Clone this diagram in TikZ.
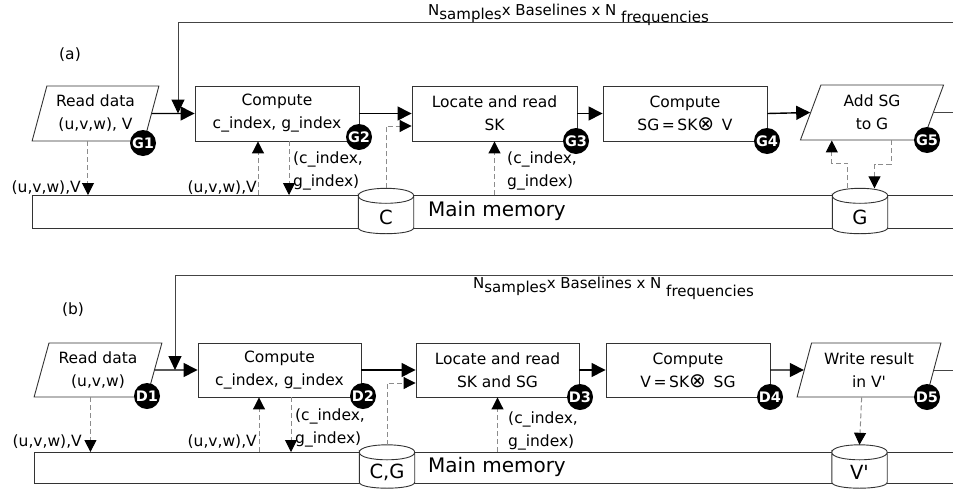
\documentclass[tikz,border=0pt]{standalone}
\usepackage{fontspec}
\setmainfont{DejaVu Sans}
\usetikzlibrary{shapes.geometric,arrows.meta,calc}
\definecolor{boxc}{HTML}{333333}
\definecolor{dashc}{HTML}{8C8C8C}
\definecolor{loopc}{HTML}{444444}
% storage cylinder drawn around the frame of a (text-less) node
\newcommand\dbshape[1]{%
  \fill[white] ($(#1.north west)+(0,7.5)$) .. controls +(0,-10) and +(0,-10) .. ($(#1.north east)+(0,7.5)$)
     -- ($(#1.south east)+(0,-6)$) .. controls +(0,8) and +(0,8) .. ($(#1.south west)+(0,-6)$) -- cycle;
  \draw[boxline] ($(#1.north west)+(0,7.5)$) .. controls +(0,-10) and +(0,-10) .. ($(#1.north east)+(0,7.5)$)
     .. controls +(0,10) and +(0,10) .. ($(#1.north west)+(0,7.5)$)
     -- ($(#1.south west)+(0,-6)$) .. controls +(0,8) and +(0,8) .. ($(#1.south east)+(0,-6)$)
     -- ($(#1.north east)+(0,7.5)$);
}
\newcommand\otimesbig{{\fontsize{20}{20}\selectfont ⊗}}
\begin{document}
\begin{tikzpicture}[x=1pt,y=-1pt,
  boxline/.style={draw=boxc, line width=0.9pt},
  txt/.style={font=\fontsize{15.5}{23}\selectfont, align=center},
  proc/.style={boxline, rectangle, minimum height=55pt, inner sep=0pt, txt},
  io/.style={boxline, trapezium, trapezium left angle=72, trapezium right angle=108,
    trapezium stretches=true, minimum height=55pt, inner sep=0pt, txt},
  badge/.style={circle, fill=black, text=white, minimum size=26pt, inner sep=0pt,
    font=\fontsize{14.5}{14.5}\bfseries\selectfont},
  flow/.style={line width=1.4pt, draw=black, -{Triangle[length=14pt,width=14pt]}},
  loopline/.style={line width=1pt, draw=loopc, -{Triangle[length=14pt,width=13pt,color=black,fill=black]}},
  memio/.style={draw=dashc, line width=1pt, dash pattern=on 5pt off 3pt,
    -{Triangle[length=12pt,width=12pt,color=black,fill=black]}},
  lbl/.style={font=\fontsize{15.5}{23}\selectfont, inner sep=0pt, align=left},
  membar/.style={boxline, rectangle, inner sep=0pt, minimum width=1000pt, anchor=north west},
  memtxt/.style={font=\fontsize{20}{20}\selectfont, inner sep=0pt},
  cylframe/.style={rectangle, inner sep=0pt, minimum width=55pt, minimum height=45pt},
  cyltxt/.style={font=\fontsize{19.5}{19.5}\selectfont, inner sep=0pt},
  topnote/.style={font=\fontsize{15}{15}\selectfont, inner sep=0pt, anchor=base west},
  tag/.style={font=\fontsize{15.5}{15.5}\selectfont, inner sep=0pt}
]
\clip (0,0) rectangle (953,493);

% ================= panel (a) =================
\node[tag] (tagA) at (70,55) {(a)};
\node[membar, minimum height=33pt] (memA) at (32,195) {};
\node[memtxt] (memAt) at (497,211) {Main memory};
\node[cylframe] (cyC) at (386,211) {};
\dbshape{cyC}
\node[cyltxt] (cyCt) at ([yshift=-6pt]cyC.center) {C};
\node[cylframe] (cyG) at (860,211) {};
\dbshape{cyG}
\node[cyltxt] (cyGt) at ([yshift=-6pt]cyG.center) {G};

\node[io, minimum width=127pt] (rdA) at (95.5,113.5) {Read data\\(u,v,w), V};
\node[proc, minimum width=164pt] (cmpA) at (277,113.5) {Compute\\c\_index, g\_index};
\node[proc, minimum width=165pt] (locA) at (494.5,113.5) {Locate and read\\SK};
\node[proc, minimum width=164pt] (sgA) at (685,113.5) {Compute\\SG\,=\,SK\otimesbig\enspace V};
\node[io, minimum width=144pt] (addA) at (872,112.5) {Add SG\\to G};

\coordinate (loopA) at (178,22);
\draw[flow] (rdA.east) -- (cmpA.west);
\draw[flow] (cmpA.east) -- (locA.west);
\draw[flow] (locA.east) -- (sgA.west);
\draw[flow] (sgA.east) -- (addA.west);
\draw[loopline] (addA.east) -- ++(60,0) |- (loopA) -- (loopA |- cmpA.west);
\node[topnote] (noteA) at (428,15) {N\raisebox{-4pt}{samples}x Baselines x N \raisebox{-7pt}{frequencies}};

\coordinate (rdAb) at ($(rdA.bottom left corner)!0.5!(rdA.bottom right corner)$);
\draw[memio] (rdAb) -- (rdAb |- memA.north);
\draw[memio] ([xshift=-19pt]cmpA.south |- memA.north) -- ([xshift=-19pt]cmpA.south);
\draw[memio] ([xshift=12pt]cmpA.south) -- ([xshift=12pt]cmpA.south |- memA.north);
\draw[memio] (cyC.north) |- ([yshift=-12.5pt]locA.west);
\draw[memio] (locA.south |- memA.north) -- (locA.south);
\draw[memio] ([xshift=-12.5pt]cyG.north) -- ++(0,-25) -| ([xshift=32pt]addA.bottom left corner);
\draw[memio] ([xshift=-32pt]addA.bottom right corner) -- ++(0,24) -| ([xshift=14.5pt]cyG.north);

\node[lbl, anchor=east] (uvA1) at (81,188) {(u,v,w),V};
\node[lbl, anchor=east] (uvA2) at (257,188) {(u,v,w),V};
\node[lbl, anchor=north west] (ciA1) at (293,152) {(c\_index,\\g\_index)};
\node[lbl, anchor=north west] (ciA2) at (507,152) {(c\_index,\\g\_index)};

\node[badge] (g1) at (143,143) {G1};
\node[badge] (g2) at (359,137) {G2};
\node[badge] (g3) at (576,141) {G3};
\node[badge] (g4) at (767,141) {G4};
\node[badge] (g5) at (927,140) {G5};

% ================= panel (b) =================
\node[tag] (tagB) at (73,310) {(b)};
\node[membar, minimum height=31pt] (memB) at (34,452) {};
\node[memtxt] (memBt) at (497,467) {Main memory};
\node[cylframe, minimum height=43pt] (cyCG) at (387,466.5) {};
\dbshape{cyCG}
\node[cyltxt] (cyCGt) at ([yshift=-6pt]cyCG.center) {C,G};
\node[cylframe, minimum height=43pt] (cyV) at (859.5,466.5) {};
\dbshape{cyV}
\node[cyltxt] (cyVt) at ([yshift=-6pt]cyV.center) {V\textquotesingle};

\node[io, minimum width=128pt, minimum height=54pt] (rdB) at (98,370) {Read data\\(u,v,w)};
\node[proc, minimum width=163pt, minimum height=54pt] (cmpB) at (279.5,370) {Compute\\c\_index, g\_index};
\node[proc, minimum width=163pt, minimum height=54pt] (locB) at (497.5,370) {Locate and read\\SK and SG};
\node[proc, minimum width=164pt, minimum height=54pt] (vB) at (688,370) {Compute\\V\,=\,SK\otimesbig\enspace SG};
\node[io, minimum width=144pt, minimum height=54pt] (wrB) at (869,370) {Write result\\in V\textquotesingle};

\coordinate (loopB) at (175,275);
\draw[flow] (rdB.east) -- (cmpB.west);
\draw[flow] (cmpB.east) -- (locB.west);
\draw[flow] (locB.east) -- (vB.west);
\draw[flow] (vB.east) -- (wrB.west);
\draw[loopline] (wrB.east) -- ++(60,0) |- (loopB) -- (loopB |- cmpB.west);
\node[topnote] (noteB) at (473,288) {N\raisebox{-4pt}{samples}x Baselines x N \raisebox{-8pt}{frequencies}};

\coordinate (rdBb) at ($(rdB.bottom left corner)!0.5!(rdB.bottom right corner)$);
\coordinate (wrBb) at ($(wrB.bottom left corner)!0.5!(wrB.bottom right corner)$);
\draw[memio] (rdBb) -- (rdBb |- memB.north);
\draw[memio] ([xshift=-20.5pt]cmpB.south |- memB.north) -- ([xshift=-20.5pt]cmpB.south);
\draw[memio] ([xshift=11.5pt]cmpB.south) -- ([xshift=11.5pt]cmpB.south |- memB.north);
\draw[memio] (cyCG.north) |- ([yshift=-13pt]locB.west);
\draw[memio] (locB.south |- memB.north) -- (locB.south);
\draw[memio] (wrBb) -- (cyV.north);

\node[lbl, anchor=east] (uvB1) at (82,442) {(u,v,w),V};
\node[lbl, anchor=east] (uvB2) at (257,442) {(u,v,w),V};
\node[lbl, anchor=north west] (ciB1) at (295,409) {(c\_index,\\g\_index)};
\node[lbl, anchor=north west] (ciB2) at (508,412) {(c\_index,\\g\_index)};

\node[badge] (d1) at (147,396) {D1};
\node[badge] (d2) at (363,396) {D2};
\node[badge] (d3) at (580,397) {D3};
\node[badge] (d4) at (770,397) {D4};
\node[badge] (d5) at (927,397) {D5};
\end{tikzpicture}
\end{document}
